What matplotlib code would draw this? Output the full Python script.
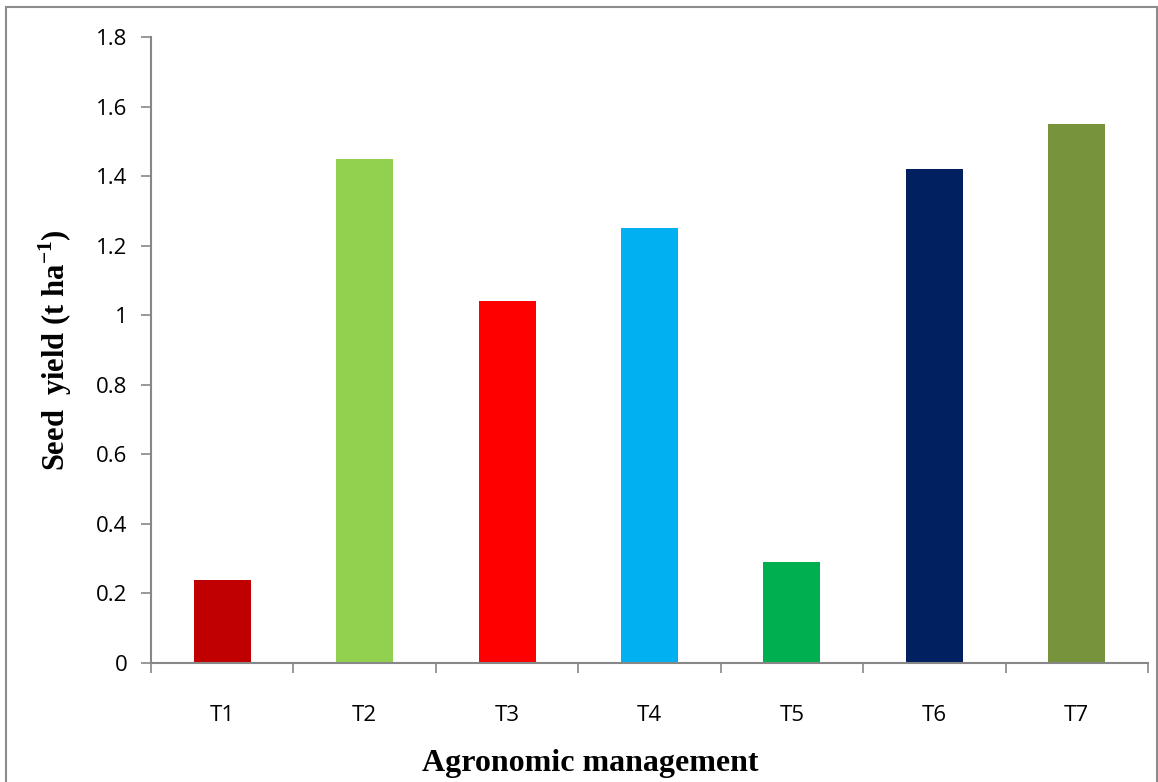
import matplotlib
matplotlib.use("Agg")
import matplotlib.pyplot as plt
from matplotlib.patches import Rectangle

# Seed yield per agronomic management treatment
treatments = ["T1", "T2", "T3", "T4", "T5", "T6", "T7"]
seed_yield = [0.24, 1.45, 1.04, 1.25, 0.29, 1.42, 1.55]
bar_colors = ["#C00000", "#92D050", "#FF0000", "#00B0F0", "#00B050", "#002060", "#77933C"]
y_ticks = [0, 0.2, 0.4, 0.6, 0.8, 1.0, 1.2, 1.4, 1.6, 1.8]
y_tick_labels = ["0", "0.2", "0.4", "0.6", "0.8", "1", "1.2", "1.4", "1.6", "1.8"]

plt.rcParams["mathtext.fontset"] = "custom"
plt.rcParams["mathtext.rm"] = "Liberation Serif:bold"
plt.rcParams["mathtext.bf"] = "Liberation Serif:bold"

W, H = 1158, 782
fig = plt.figure(figsize=(W / 100, H / 100), dpi=100)
fig.patch.set_facecolor("white")

# Outer chart frame
fig.add_artist(Rectangle((6 / W, -0.01), (1157 - 6) / W, (H - 7) / H + 0.01,
                         transform=fig.transFigure, fill=False,
                         edgecolor="#8C8C8C", linewidth=1.5))

ax = fig.add_axes([151 / W, (H - 663) / H, (1148 - 151) / W, (663 - 37) / H])
x = list(range(len(treatments)))
ax.bar(x, seed_yield, width=0.4, color=bar_colors, zorder=2)

ax.set_xlim(-0.5, len(treatments) - 0.5)
ax.set_ylim(0, 1.8)
ax.set_yticks(y_ticks)
ax.set_yticklabels(y_tick_labels)
ax.set_xticks(x)
ax.set_xticklabels(treatments)
ax.set_xticks([i - 0.5 for i in range(len(treatments) + 1)], minor=True)

grey = "#878787"
for side in ["top", "right"]:
    ax.spines[side].set_visible(False)
for side in ["left", "bottom"]:
    ax.spines[side].set_color(grey)
    ax.spines[side].set_linewidth(1.5)

ax.tick_params(axis="y", direction="out", length=7, width=1.2, color=grey,
               labelsize=16, pad=10)
ax.tick_params(axis="x", which="major", length=0, pad=30, labelsize=16)
ax.tick_params(axis="x", which="minor", direction="out", length=7, width=1.2, color=grey)
for lab in ax.get_xticklabels() + ax.get_yticklabels():
    lab.set_fontfamily(["Open Sans", "DejaVu Sans"])

label_font = {"family": "Liberation Serif", "weight": "bold", "size": 23}
fig.text(590 / W, 1 - 763 / H, "Agronomic management", ha="center", va="center",
         fontdict=label_font)
fig.text(55 / W, 1 - 350 / H, "Seed  yield (t ha$^{\\mathrm{-1}}$)", ha="center",
         va="center", rotation=90,
         fontdict={"family": "Liberation Serif", "weight": "bold", "size": 22})

fig.savefig("out.png", dpi=100)
